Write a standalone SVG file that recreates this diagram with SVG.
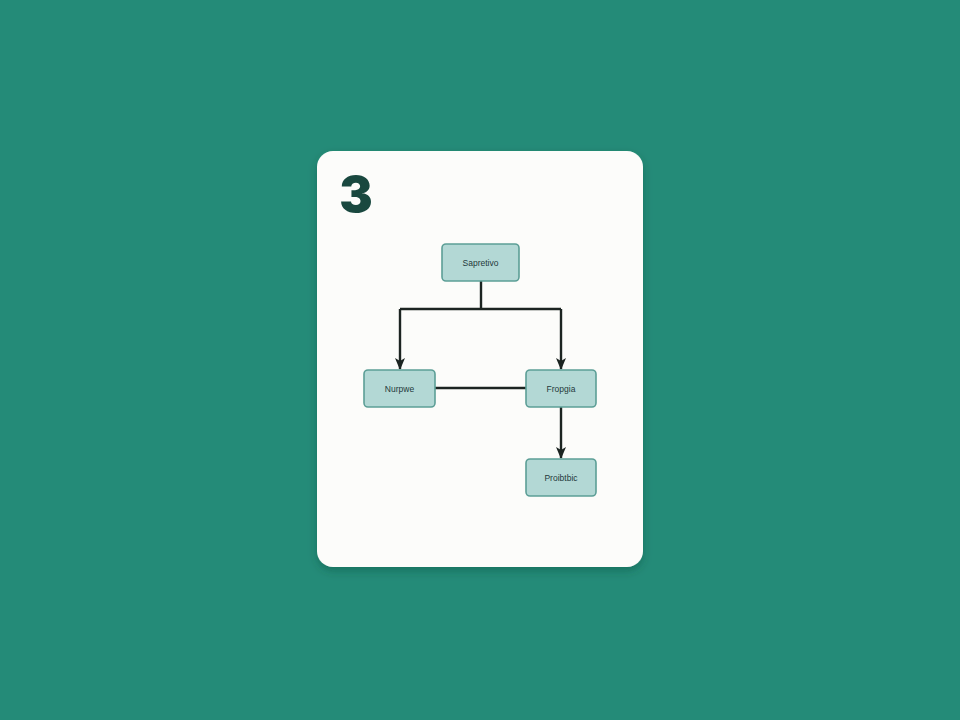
<svg xmlns="http://www.w3.org/2000/svg" width="960" height="720" viewBox="0 0 960 720">
<defs>
<filter id="sh" x="-10%" y="-10%" width="120%" height="120%"><feDropShadow dx="0" dy="4" stdDeviation="4" flood-color="#0b3f36" flood-opacity="0.35"/></filter>
<marker id="a" viewBox="0 0 12 10" refX="11" refY="5" markerWidth="12" markerHeight="10" orient="auto" markerUnits="userSpaceOnUse"><path d="M0,0 L12,5 L0,10 L3,5 z" fill="#1c2421"/></marker>
</defs>
<style>
.n rect{fill:#b3d8d5;stroke:#5c9e96;stroke-width:1.6}
.n text{font-family:"Liberation Sans",Arial,sans-serif;font-size:8.5px;fill:#23393a;text-anchor:middle;dominant-baseline:central}
.c{fill:none;stroke:#1c2421;stroke-width:2.4}
</style>
<rect width="960" height="720" fill="#248b78"/>
<rect x="317" y="151" width="326" height="416" rx="16" fill="#fcfcfa" filter="url(#sh)"/>
<text x="356" y="212" font-family="Inter,Liberation Sans,Arial,sans-serif" font-weight="900" font-size="50" fill="#19483f" text-anchor="middle">3</text>
<g id="connectors">
<path class="c" d="M481,281 V309"/>
<path class="c" d="M400,309 H561"/>
<path class="c" d="M400,309 V369" marker-end="url(#a)"/>
<path class="c" d="M561,309 V369" marker-end="url(#a)"/>
<path class="c" d="M435,388 H526"/>
<path class="c" d="M561,407 V458" marker-end="url(#a)"/>
</g>
<g id="node-top" class="n"><rect x="442" y="244" width="77" height="37" rx="4"/><text x="480.5" y="262.5">Sapretivo</text></g>
<g id="node-left" class="n"><rect x="364" y="370" width="71" height="37" rx="4"/><text x="399.5" y="388.5">Nurpwe</text></g>
<g id="node-right" class="n"><rect x="526" y="370" width="70" height="37" rx="4"/><text x="561" y="388.5">Fropgia</text></g>
<g id="node-bottom" class="n"><rect x="526" y="459" width="70" height="37" rx="4"/><text x="561" y="477.5">Proibtbic</text></g>
</svg>
